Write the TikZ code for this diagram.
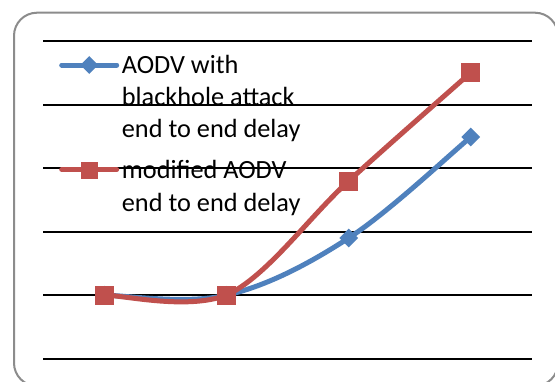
\documentclass[tikz,border=0pt]{standalone}
\usepackage{fontspec}
\setmainfont{Carlito}
\usetikzlibrary{shapes.geometric}
\definecolor{serblue}{HTML}{4F81BD}
\definecolor{serred}{HTML}{C0504D}
\definecolor{framegray}{HTML}{8C8C8C}
\begin{document}
\begin{tikzpicture}[x=1pt,y=-1pt,
  gridline/.style={black,line width=1.8pt},
  blueline/.style={serblue,line width=5pt,line cap=round,line join=round},
  redline/.style={serred,line width=5pt,line cap=round,line join=round},
  bluemark/.style={diamond,fill=serblue,inner sep=0pt,minimum size=19pt},
  redmark/.style={rectangle,fill=serred,inner sep=0pt,minimum size=19pt},
  legtext/.style={anchor=base west,inner sep=0pt,text=black,font=\fontsize{26.3}{32}\selectfont}]
\useasboundingbox (0,0) rectangle (555,381);
\clip (0,0) rectangle (555,381);
\fill[white] (0,0) rectangle (555,381);
\draw[framegray,line width=2pt,rounded corners=23pt] (14,12.7) rectangle (558,386);
% gridlines
\foreach \y in {41.3,104.8,168.3,231.8,295.2,358.7}
  \draw[gridline] (43,\y) -- (532,\y);
% data coordinates
\coordinate (b0) at (104.4,295.2);
\coordinate (b1) at (226.5,295.2);
\coordinate (b2) at (348.7,238);
\coordinate (b3) at (470.8,137);
\coordinate (r0) at (104.4,295.2);
\coordinate (r1) at (226.5,295.2);
\coordinate (r2) at (348.7,181);
\coordinate (r3) at (470.8,72.5);
% blue series
\draw[blueline] (b0) .. controls (124.75,295.2) and (185.8,304.7) .. (b1)
  .. controls (267.2,285.7) and (308,264.4) .. (b2)
  .. controls (389.4,211.6) and (450.45,153.8) .. (b3);
\foreach \p in {0,1,2,3} \node[bluemark] (bm\p) at (b\p) {};
% red series
\draw[redline] (r0) .. controls (124.75,295.2) and (185.8,310.2) .. (r1)
  .. controls (267.2,276.2) and (308,218.1) .. (r2)
  .. controls (389.4,143.9) and (450.45,90.6) .. (r3);
\foreach \p in {0,1,2,3} \node[redmark] (rm\p) at (r\p) {};
% legend
\coordinate (lb0) at (61.7,65);
\coordinate (lb1) at (116.7,65);
\draw[blueline] (lb0) -- (lb1);
\node[bluemark,minimum size=18pt] (lbm) at (89.2,65) {};
\coordinate (lr0) at (61.7,169.5);
\coordinate (lr1) at (116.7,169.5);
\draw[redline] (lr0) -- (lr1);
\node[redmark,minimum size=17.5pt] (lrm) at (89.6,170.5) {};
\node[legtext] (t1) at (121.7,73.3) {AODV with};
\node[legtext] (t2) at (121.7,105) {blackhole attack};
\node[legtext] (t3) at (121.7,137.3) {end to end delay};
\node[legtext] (t4) at (121.7,178.4) {modified AODV};
\node[legtext] (t5) at (121.7,211.2) {end to end delay};
\end{tikzpicture}
\end{document}
